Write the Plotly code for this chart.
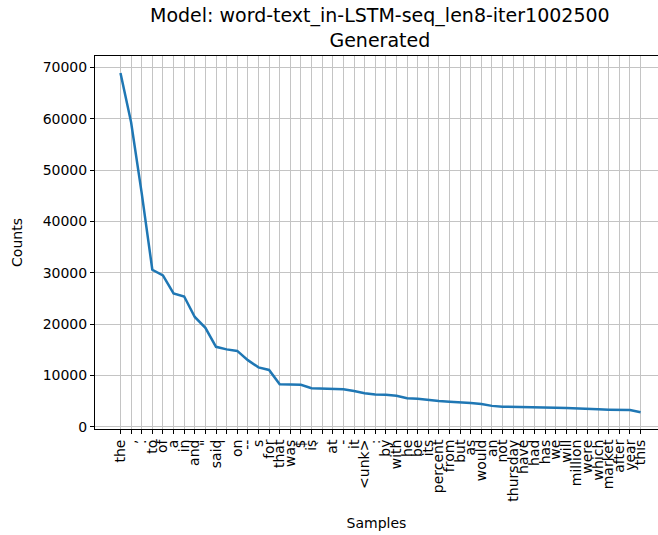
import plotly.graph_objects as go

labels = ["the", ",", ".", "to", "of", "a", "in", "and", "\"", "said",
          "'", "on", "--", "s", "for", "that", "was", "$", "is", "`",
          "at", "-", "it", "<unk>", ":", "by", "with", "he", "be", "its",
          "percent", "from", "but", "as", "would", "an", "not", "thursday", "have", "had",
          "has", "we", "will", "million", "were", "which", "market", "after", "year", "this"]
counts = [68900, 59300, 45500, 30600, 29500, 26000, 25400, 21400, 19300, 15600,
          15100, 14800, 13000, 11600, 11100, 8300, 8250, 8200, 7550, 7450,
          7400, 7350, 7000, 6550, 6300, 6250, 6050, 5570, 5500, 5250,
          5050, 4900, 4800, 4650, 4450, 4100, 3950, 3880, 3830, 3750,
          3740, 3730, 3680, 3560, 3500, 3440, 3360, 3350, 3290, 2850]
y_ticks = [0, 10000, 20000, 30000, 40000, 50000, 60000, 70000]

idx = list(range(len(labels)))

fig = go.Figure()
fig.add_trace(go.Scatter(x=idx, y=counts, mode="lines",
                         line=dict(color="#1f77b4", width=2.5), showlegend=False))

font = dict(family="DejaVu Sans", size=14, color="black")
fig.update_layout(
    width=658, height=535,
    margin=dict(l=95, r=0, t=56, b=106),
    plot_bgcolor="white", paper_bgcolor="white",
    font=font,
)
fig.add_annotation(
    text="Model: word-text_in-LSTM-seq_len8-iter1002500<br>Generated",
    xref="paper", yref="paper", x=0.506, y=1.008,
    xanchor="center", yanchor="bottom", showarrow=False,
    font=dict(family="DejaVu Sans", size=19, color="black"),
)
fig.update_xaxes(
    range=[-2.4, 50.64],
    tickmode="array", tickvals=idx, ticktext=labels, tickangle=-90,
    showgrid=True, gridcolor="#c4c4c4", gridwidth=1,
    showline=True, linecolor="black", linewidth=1, mirror=True,
    ticks="outside", ticklen=4, tickcolor="black",
    zeroline=False,
    title=dict(text="Samples", font=font, standoff=17),
)
fig.update_yaxes(
    range=[-400, 72200],
    tickmode="array", tickvals=y_ticks, ticktext=[str(v) for v in y_ticks],
    showgrid=True, gridcolor="#c4c4c4", gridwidth=1,
    showline=True, linecolor="black", linewidth=1,
    ticks="outside", ticklen=4, tickcolor="black",
    zeroline=False,
    title=dict(text="Counts", font=font, standoff=16),
)
fig.write_html("out.html")
